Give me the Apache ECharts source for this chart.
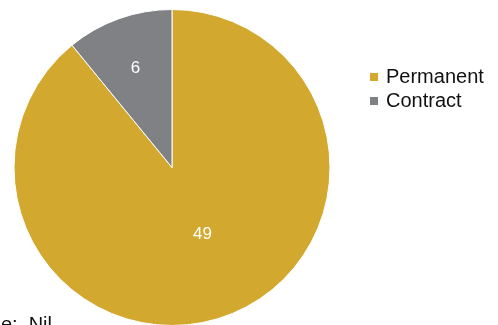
<!DOCTYPE html>
<html>
<head>
<meta charset="utf-8">
<script src="https://cdn.jsdelivr.net/npm/echarts@6/dist/echarts.min.js"></script>
<style>
  html, body { margin: 0; padding: 0; background: #fff; }
  #chart { width: 498px; height: 325px; }
</style>
</head>
<body>
<div id="chart"></div>
<script>
// Staff split by employment type
const categories = ['Permanent', 'Contract'];
const counts = [49, 6];
const colors = ['#D3A82E', '#808185'];
const footnote = 'Female:  Nil';

// label nudges inside each slice (pixels)
const labelNudge = [[3, -10], [-9, -22]];

const chart = echarts.init(document.getElementById('chart'), null, { renderer: 'canvas' });

chart.setOption({
  animation: false,
  textStyle: { fontFamily: 'Liberation Sans, Arial, sans-serif' },
  legend: {
    orient: 'vertical',
    left: 370,
    top: 67,
    padding: 0,
    itemWidth: 8,
    itemHeight: 8,
    itemGap: 4,
    icon: 'rect',
    selectedMode: false,
    itemStyle: { borderWidth: 0 },
    data: categories,
    textStyle: {
      fontSize: 20,
      lineHeight: 19,
      color: '#111',
      padding: [0, 0, 0, 3],
      fontFamily: 'Liberation Sans, Arial, sans-serif'
    }
  },
  graphic: [{
    type: 'text',
    right: 446,
    top: 315,
    style: {
      text: footnote,
      fontSize: 20,
      fill: '#111',
      fontFamily: 'Liberation Sans, Arial, sans-serif'
    }
  }],
  series: [{
    type: 'pie',
    center: [172, 167.5],
    radius: [0, 158],
    startAngle: 90,
    clockwise: true,
    avoidLabelOverlap: false,
    itemStyle: { borderColor: '#fff', borderWidth: 1 },
    label: {
      show: true,
      position: 'inside',
      formatter: '{c}',
      color: '#fff',
      fontSize: 17,
      fontFamily: 'Liberation Sans, Arial, sans-serif'
    },
    labelLine: { show: false },
    emphasis: { disabled: true },
    data: categories.map((name, i) => ({
      name: name,
      value: counts[i],
      itemStyle: { color: colors[i] },
      label: { offset: labelNudge[i] }
    }))
  }]
});
</script>
</body>
</html>
